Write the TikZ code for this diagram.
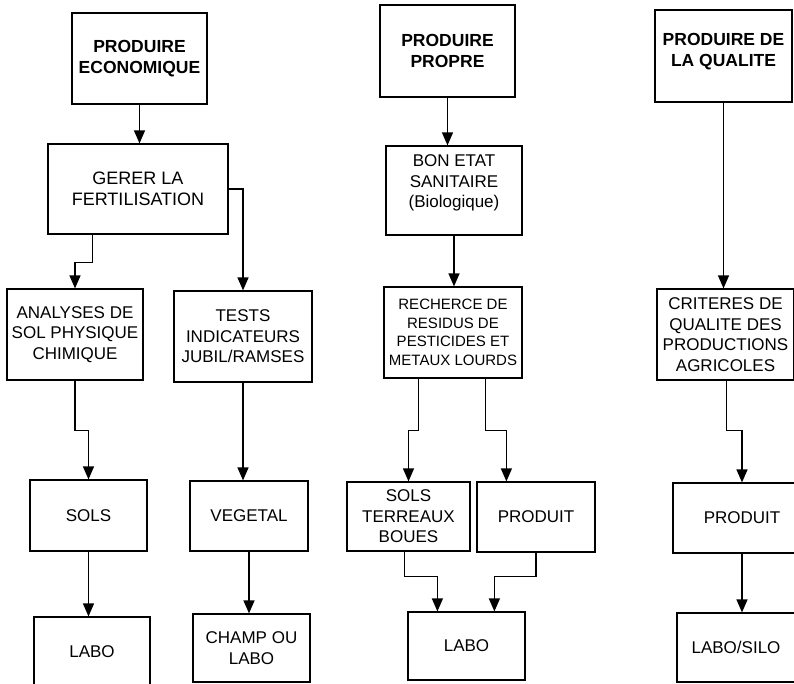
\documentclass[tikz,border=0pt]{standalone}
\usepackage{fontspec}
\setmainfont{Liberation Sans}
\usetikzlibrary{arrows.meta,calc}

\begin{document}
\begin{tikzpicture}[x=1pt,y=-1pt,
		boite/.style={draw,line width=1.2pt,align=center,inner sep=2pt,
			font=\fontsize{17}{20.5}\selectfont},
		titre/.style={boite,font=\fontsize{17.5}{21}\selectfont\bfseries},
		fleche/.style={line width=1.3pt,-{Triangle[length=13pt,width=11pt]}}]
			\useasboundingbox (0,0) rectangle (794,684);
			% les trois objectifs
			\node[titre,minimum width=135,minimum height=91] (pe) at (139.5,58.5) {PRODUIRE\\ECONOMIQUE};
			\node[titre,minimum width=135,minimum height=92] (pp) at (447.5,51) {PRODUIRE\\PROPRE};
			\node[titre,minimum width=137,minimum height=92,text depth=13pt] (pq) at (723.5,56) {PRODUIRE DE\\LA QUALITE};
			% deuxieme niveau
			\node[boite,minimum width=180,minimum height=90,font=\fontsize{18}{21}\selectfont] (gerer) at (138,189) {GERER LA\\FERTILISATION};
			\node[boite,minimum width=136,minimum height=89] (bon) at (454,190.5) {BON ETAT\\SANITAIRE\\(Biologique)\\[-2pt]};
			% analyses
			\node[boite,minimum width=136,minimum height=91] (ana) at (75,334.5) {ANALYSES DE\\SOL PHYSIQUE\\CHIMIQUE};
			\node[boite,minimum width=138,minimum height=91] (tests) at (243,336.5) {TESTS\\INDICATEURS\\JUBIL/RAMSES};
			\node[boite,minimum width=138,minimum height=91,font=\fontsize{15}{18.6}\selectfont] (rech) at (453,332.5) {RECHERCE DE\\RESIDUS DE\\PESTICIDES ET\\METAUX LOURDS};
			\node[boite,minimum width=137,minimum height=91] (crit) at (725.5,334.5) {CRITERES DE\\QUALITE DES\\PRODUCTIONS\\AGRICOLES};
			% echantillons
			\node[boite,minimum width=117,minimum height=71] (sols) at (88.5,515.5) {SOLS};
			\node[boite,minimum width=118,minimum height=70] (veg) at (249,516) {VEGETAL};
			\node[boite,minimum width=123,minimum height=69] (stb) at (408.5,516.5) {SOLS\\TERREAUX\\BOUES};
			\node[boite,minimum width=118,minimum height=70] (prod1) at (536,517) {PRODUIT};
			\node[boite,minimum width=138,minimum height=70] (prod2) at (742,518) {PRODUIT};
			% lieux d'analyse
			\node[boite,minimum width=116,minimum height=70] (labo1) at (92,652) {LABO};
			\node[boite,minimum width=117,minimum height=68] (champ) at (251.5,648) {CHAMP OU\\LABO};
			\node[boite,minimum width=117,minimum height=68] (labo2) at (466.5,646) {LABO};
			\node[boite,minimum width=118,minimum height=69] (labosilo) at (736,647.5) {LABO/SILO};
			% fleches
			\draw[fleche] (pe.south) -- (pe.south |- gerer.north);
			\draw[fleche] (pp.south) -- (pp.south |- bon.north);
			\draw[fleche] (pq.south) -- (pq.south |- crit.north);
			\draw[fleche] ($(gerer.south west)+(45,0)$) -- ++(0,28) -| (ana.north);
			\draw[fleche] (gerer.east) -| (tests.north);
			\draw[fleche] (bon.south) -- (bon.south |- rech.north);
			\draw[fleche] (ana.south) -- ++(0,50) -| (sols.north);
			\draw[fleche] (tests.south) -- (tests.south |- veg.north);
			\draw[fleche] ($(rech.south west)+(35,0)$) -- ++(0,52) -| (stb.north);
			\draw[fleche] ($(rech.south west)+(102,0)$) -- ++(0,52) -| ($(prod1.north west)+(30,0)$);
			\draw[fleche] ($(crit.south west)+(70,0)$) -- ++(0,50) -| (prod2.north);
			\draw[fleche] (sols.south) -- (sols.south |- labo1.north);
			\draw[fleche] (veg.south) -- (veg.south |- champ.north);
			\draw[fleche] ($(stb.south west)+(58,0)$) -- ++(0,25) -| ($(labo2.north west)+(30,0)$);
			\draw[fleche] (prod1.south) -- ++(0,24) -| ($(labo2.north west)+(87,0)$);
			\draw[fleche] (prod2.south) -- (prod2.south |- labosilo.north);
		\end{tikzpicture}
\end{document}
